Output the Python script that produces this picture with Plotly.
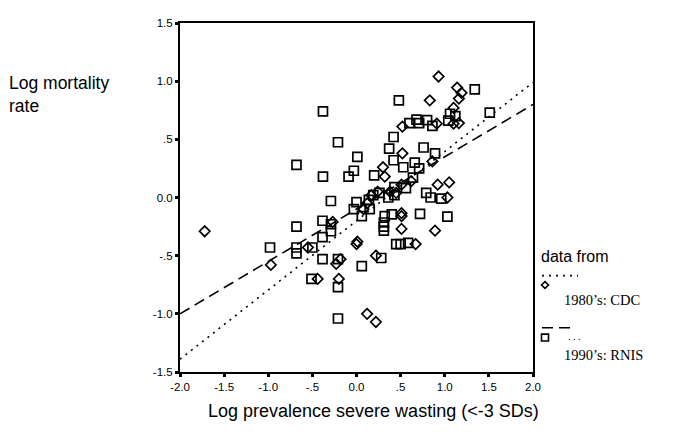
import plotly.graph_objects as go

# 1980's: CDC (diamonds)
cdc_x = [-1.72, -0.97, -0.55, -0.44, -0.18, -0.23, -0.20, 0.01, 0.00, 0.12, 0.22, 0.22,
         0.08, 0.12, 0.17, 0.30, 0.32, 0.45, 0.51, 0.62, 0.51, 0.51, 0.51, 0.52, 0.52,
         0.67, 0.83, 0.86, 0.89, 0.91, 0.92, 0.93, 1.03, 1.05, 1.10, 1.10, 1.14, 1.16,
         1.16, 1.19, 0.38, 0.24, -0.27]
cdc_y = [-0.29, -0.58, -0.43, -0.70, -0.53, -0.57, -0.70, -0.38, -0.40, -1.00, -1.07, -0.50,
         -0.10, -0.05, 0.02, 0.26, 0.18, 0.04, 0.11, 0.14, -0.135, -0.16, -0.27, 0.38, 0.61,
         -0.40, 0.835, 0.31, -0.285, 0.635, 0.11, 1.04, 0.00, 0.13, 0.77, 0.635, 0.945, 0.85,
         0.64, 0.90, 0.05, 0.05, -0.21]

# 1990's: RNIS (squares)
rnis_x = [-0.98, -0.68, -0.68, -0.68, -0.68, -0.50, -0.51, -0.38, -0.38, -0.385, -0.385,
          -0.385, -0.29, -0.29, -0.29, -0.21, -0.21, -0.21, -0.21, -0.09, -0.03, 0.01, 0.00,
          -0.03, 0.06, 0.15, 0.14, 0.06, 0.20, 0.26, 0.28, 0.32, 0.31, 0.31, 0.31, 0.36, 0.37,
          0.40, 0.42, 0.42, 0.43, 0.43, 0.45, 0.50, 0.48, 0.53, 0.56, 0.585, 0.60, 0.64, 0.66,
          0.68, 0.71, 0.71, 0.72, 0.76, 0.79, 0.80, 0.84, 0.86, 0.89, 0.96, 1.03, 1.04, 1.06,
          1.12, 1.34, 1.51, 0.19]
rnis_y = [-0.43, 0.28, -0.25, -0.43, -0.48, -0.43, -0.70, 0.74, 0.18, -0.20, -0.34,
          -0.53, -0.03, -0.23, -0.29, 0.475, -0.53, -0.77, -1.04, 0.18, 0.23, 0.35, -0.04,
          -0.10, -0.16, -0.10, -0.02, -0.59, 0.19, 0.04, -0.52, -0.16, -0.215, -0.25, -0.285,
          0.00, 0.42, -0.145, 0.52, 0.32, 0.09, 0.02, -0.40, -0.40, 0.835, 0.26, 0.08, -0.39,
          0.64, 0.17, 0.30, 0.67, 0.64, 0.25, -0.14, 0.43, 0.04, 0.665, 0.00, 0.615, 0.38,
          -0.01, -0.165, 0.66, 0.72, 0.70, 0.93, 0.73, 0.02]

# fit lines: (intercept, slope)
cdc_fit = [-0.20, 0.595]
rnis_fit = [-0.10, 0.45]

x_ticks = [-2.0, -1.5, -1.0, -0.5, 0.0, 0.5, 1.0, 1.5, 2.0]
x_tick_labels = ["-2.0", "-1.5", "-1.0", "-.5", "0.0", ".5", "1.0", "1.5", "2.0"]
y_ticks = [-1.5, -1.0, -0.5, 0.0, 0.5, 1.0, 1.5]
y_tick_labels = ["-1.5", "-1.0", "-.5", "0.0", ".5", "1.0", "1.5"]

X_RANGE = [-2.0, 2.0]
Y_RANGE = [-1.5, 1.5]

# screen layout (page body has an 8px margin)
OFF = 8
SW, SH = 681, 443
W, H = SW - 2 * OFF, SH - 2 * OFF
L, R, T, B = 180, 533, 17, 372


def px(x):
    return (x - L) / (R - L)


def py(y):
    return (B - y) / (B - T)


fig = go.Figure()

fx = X_RANGE
fig.add_trace(go.Scatter(x=fx, y=[cdc_fit[0] + cdc_fit[1] * v for v in fx], mode="lines",
                         line=dict(color="black", width=1.6, dash="2px,5px"),
                         showlegend=False, hoverinfo="skip"))
fig.add_trace(go.Scatter(x=fx, y=[rnis_fit[0] + rnis_fit[1] * v for v in fx], mode="lines",
                         line=dict(color="black", width=1.6, dash="11px,6px"),
                         showlegend=False, hoverinfo="skip"))
fig.add_trace(go.Scatter(x=rnis_x, y=rnis_y, mode="markers", showlegend=False,
                         marker=dict(symbol="square-open", size=9, color="black",
                                     line=dict(width=1.7, color="black"))))
fig.add_trace(go.Scatter(x=cdc_x, y=cdc_y, mode="markers", showlegend=False,
                         marker=dict(symbol="diamond-open", size=8, color="black",
                                     line=dict(width=1.7, color="black"))))

axis_common = dict(showgrid=False, zeroline=False, showline=True, linecolor="black",
                   linewidth=2, mirror=True, ticks="outside", ticklen=3, tickwidth=3,
                   tickcolor="black", tickfont=dict(family="Liberation Sans, Arial", size=11.5,
                                                    color="black"))
fig.update_xaxes(range=X_RANGE, tickvals=x_ticks, ticktext=x_tick_labels, **axis_common)
fig.update_yaxes(range=Y_RANGE, tickvals=y_ticks, ticktext=y_tick_labels, **axis_common)

sans = "Liberation Sans, Arial"
serif = "Liberation Serif, Times New Roman"
annotations = [
    dict(text="Log mortality<br>rate", x=px(7), y=py(90), xref="paper", yref="paper",
         xanchor="left", yanchor="middle", align="left", showarrow=False,
         font=dict(family=sans, size=17.5, color="black")),
    dict(text="Log prevalence severe wasting (&lt;-3 SDs)", x=px(373), y=py(412),
         xref="paper", yref="paper", xanchor="center", yanchor="middle", showarrow=False,
         font=dict(family=sans, size=18, color="black")),
    dict(text="data from", x=px(539), y=py(255), xref="paper", yref="paper",
         xanchor="left", yanchor="middle", showarrow=False,
         font=dict(family=sans, size=16, color="black")),
    dict(text="1980\u2019s: CDC", x=px(562), y=py(299), xref="paper", yref="paper",
         xanchor="left", yanchor="middle", showarrow=False,
         font=dict(family=serif, size=14.5, color="black")),
    dict(text="1990\u2019s: RNIS", x=px(562), y=py(355), xref="paper", yref="paper",
         xanchor="left", yanchor="middle", showarrow=False,
         font=dict(family=serif, size=14.5, color="black")),
    dict(text=". . .", x=px(566), y=py(336), xref="paper", yref="paper",
         xanchor="left", yanchor="middle", showarrow=False,
         font=dict(family=serif, size=10, color="black")),
]

shapes = [
    dict(type="line", xref="paper", yref="paper", x0=px(542), x1=px(578), y0=py(274),
         y1=py(274), line=dict(color="black", width=1.6, dash="2px,5px")),
    dict(type="line", xref="paper", yref="paper", x0=px(542), x1=px(576), y0=py(327),
         y1=py(327), line=dict(color="black", width=1.6, dash="11px,6px")),
    dict(type="path", xref="paper", yref="paper",
         path=f"M {px(545)} {py(280)} L {px(548.5)} {py(283.5)} L {px(545)} {py(287)} "
              f"L {px(541.5)} {py(283.5)} Z",
         line=dict(color="black", width=1.6)),
    dict(type="rect", xref="paper", yref="paper", x0=px(541.5), x1=px(548.5),
         y0=py(340.5), y1=py(333.5), line=dict(color="black", width=1.6)),
]

fig.update_layout(width=W, height=H,
                  margin=dict(l=L - OFF, r=OFF + W - R, t=T - OFF, b=OFF + H - B),
                  paper_bgcolor="white", plot_bgcolor="white",
                  annotations=annotations, shapes=shapes, showlegend=False)

fig.write_html("out.html")
